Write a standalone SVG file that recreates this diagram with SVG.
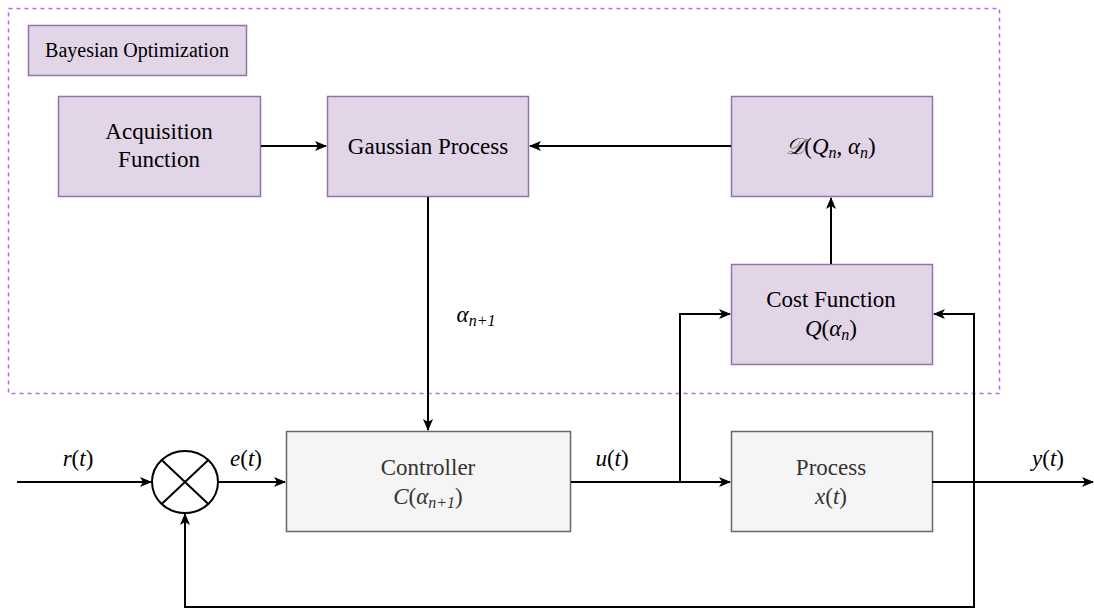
<svg xmlns="http://www.w3.org/2000/svg" width="1094" height="609" viewBox="0 0 1094 609">
<defs>
<marker id="ar" viewBox="0 0 12 12" refX="11" refY="6" markerWidth="12" markerHeight="12" markerUnits="userSpaceOnUse" orient="auto">
<path d="M0,1 L12,6 L0,11 L3,6 Z" fill="#000"/>
</marker>
</defs>
<rect x="8.5" y="8.5" width="991" height="385" fill="none" stroke="#b266ff" stroke-width="1.5" stroke-dasharray="4 4"/>
<g id="bayes-label"><rect x="28.5" y="25.5" width="218" height="50" fill="#e1d5e7" stroke="#9673a6" stroke-width="1.5"/><text font-family="Times New Roman, Liberation Serif, DejaVu Serif, serif" font-size="20" x="137" y="57" fill="#000" text-anchor="middle">Bayesian Optimization</text></g>
<g id="acq"><rect x="58.5" y="96.5" width="202" height="100" fill="#e1d5e7" stroke="#9673a6" stroke-width="1.5"/><text font-family="Times New Roman, Liberation Serif, DejaVu Serif, serif" font-size="23" text-anchor="middle" x="159" y="139">Acquisition</text><text font-family="Times New Roman, Liberation Serif, DejaVu Serif, serif" font-size="23" text-anchor="middle" x="159" y="167">Function</text></g>
<g id="gp"><rect x="327.5" y="96.5" width="201" height="100" fill="#e1d5e7" stroke="#9673a6" stroke-width="1.5"/><text font-family="Times New Roman, Liberation Serif, DejaVu Serif, serif" font-size="23" text-anchor="middle" x="428" y="154">Gaussian Process</text></g>
<g id="data"><rect x="731.5" y="96.5" width="201" height="100" fill="#e1d5e7" stroke="#9673a6" stroke-width="1.5"/><text font-family="Times New Roman, Liberation Serif, DejaVu Serif, serif" font-size="23" font-style="italic" text-anchor="middle" x="831" y="154">𝒟<tspan font-style="normal">(</tspan>Q<tspan font-size="16" dy="4">n</tspan><tspan dy="-4" font-style="normal">, </tspan>α<tspan font-size="16" dy="4">n</tspan><tspan font-style="normal" dy="-4">)</tspan></text></g>
<g id="cost"><rect x="731.5" y="264.5" width="201" height="100" fill="#e1d5e7" stroke="#9673a6" stroke-width="1.5"/><text font-family="Times New Roman, Liberation Serif, DejaVu Serif, serif" font-size="23" text-anchor="middle" x="831" y="307">Cost Function</text><text font-family="Times New Roman, Liberation Serif, DejaVu Serif, serif" font-size="23" font-style="italic" text-anchor="middle" x="831" y="336">Q<tspan font-style="normal">(</tspan>α<tspan font-size="16" dy="4">n</tspan><tspan font-style="normal" dy="-4">)</tspan></text></g>
<g id="controller"><rect x="286.5" y="431.5" width="284" height="100" fill="#f5f5f5" stroke="#666666" stroke-width="1.5"/><text font-family="Times New Roman, Liberation Serif, DejaVu Serif, serif" font-size="23" fill="#333" text-anchor="middle" x="428" y="475">Controller</text><text font-family="Times New Roman, Liberation Serif, DejaVu Serif, serif" font-size="23" font-style="italic" fill="#333" text-anchor="middle" x="428" y="504">C<tspan font-style="normal">(</tspan>α<tspan font-size="16" dy="4">n+1</tspan><tspan font-style="normal" dy="-4">)</tspan></text></g>
<g id="process"><rect x="731.5" y="431.5" width="201" height="100" fill="#f5f5f5" stroke="#666666" stroke-width="1.5"/><text font-family="Times New Roman, Liberation Serif, DejaVu Serif, serif" font-size="23" fill="#333" text-anchor="middle" x="831" y="475">Process</text><text font-family="Times New Roman, Liberation Serif, DejaVu Serif, serif" font-size="23" font-style="italic" fill="#333" text-anchor="middle" x="831" y="504">x<tspan font-style="normal">(</tspan>t<tspan font-style="normal">)</tspan></text></g>
<g id="sum"><ellipse cx="185" cy="482" rx="33" ry="31" fill="#fff" stroke="#000" stroke-width="2"/><path d="M161.7,460 L208.3,504 M208.3,460 L161.7,504" stroke="#000" stroke-width="2"/></g>
<g id="connectors" fill="none" stroke="#000" stroke-width="2">
<path d="M261,146 H326" marker-end="url(#ar)"/>
<path d="M731,146 H530" marker-end="url(#ar)"/>
<path d="M428,197 V430" marker-end="url(#ar)"/>
<path d="M831,264 V198" marker-end="url(#ar)"/>
<path d="M17,482 H151" marker-end="url(#ar)"/>
<path d="M218,482 H285" marker-end="url(#ar)"/>
<path d="M571,482 H730" marker-end="url(#ar)"/>
<path d="M680,482 V314 H730" marker-end="url(#ar)"/>
<path d="M932,482 H1093" marker-end="url(#ar)"/>
<path d="M974,482 V314 H934" marker-end="url(#ar)"/>
<path d="M974,482 V607 H185 V514" marker-end="url(#ar)"/>
</g>
<g id="labels">
<text font-family="Times New Roman, Liberation Serif, DejaVu Serif, serif" font-size="23" font-style="italic" text-anchor="middle" x="78" y="466">r<tspan font-style="normal">(</tspan>t<tspan font-style="normal">)</tspan></text>
<text font-family="Times New Roman, Liberation Serif, DejaVu Serif, serif" font-size="23" font-style="italic" text-anchor="middle" x="246" y="466">e<tspan font-style="normal">(</tspan>t<tspan font-style="normal">)</tspan></text>
<text font-family="Times New Roman, Liberation Serif, DejaVu Serif, serif" font-size="23" font-style="italic" text-anchor="middle" x="612" y="466">u<tspan font-style="normal">(</tspan>t<tspan font-style="normal">)</tspan></text>
<text font-family="Times New Roman, Liberation Serif, DejaVu Serif, serif" font-size="23" font-style="italic" text-anchor="middle" x="1048" y="466">y<tspan font-style="normal">(</tspan>t<tspan font-style="normal">)</tspan></text>
<text font-family="Times New Roman, Liberation Serif, DejaVu Serif, serif" font-size="23" font-style="italic" text-anchor="middle" x="476" y="322">α<tspan font-size="16" dy="4">n+1</tspan></text>
</g>
</svg>
